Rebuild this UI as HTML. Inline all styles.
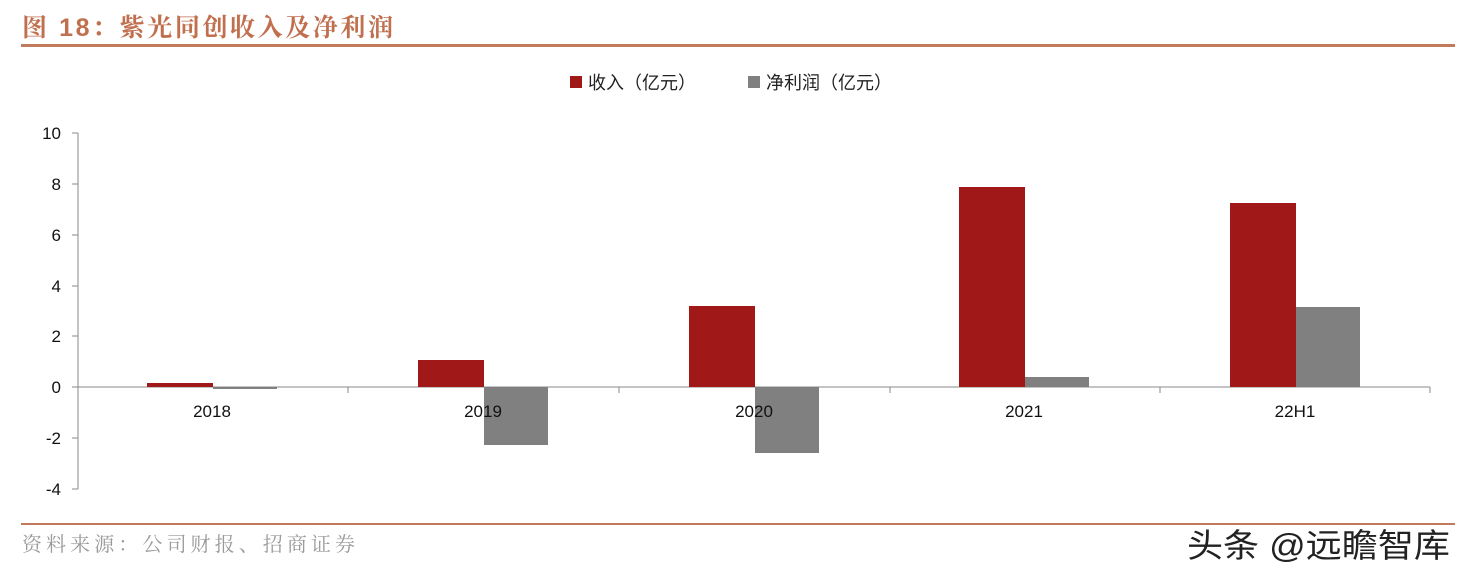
<!DOCTYPE html>
<html><head><meta charset="utf-8"><style>
body{margin:0;background:#fff;width:1476px;height:580px;overflow:hidden}
</style></head><body>
<svg width="1476" height="580" xmlns="http://www.w3.org/2000/svg" font-family="Liberation Sans, Noto Sans CJK SC, sans-serif">
<text x="22" y="36" font-size="25" font-weight="bold" fill="#c0704f" font-family="Liberation Sans, Noto Serif CJK SC, serif" textLength="371" lengthAdjust="spacing">图 18：紫光同创收入及净利润</text>
<rect x="21" y="44" width="1434" height="3" fill="#c27a5c"/>
<rect x="570" y="76" width="12" height="12" fill="#a01818"/>
<text x="588" y="89" font-size="18" fill="#222">收入（亿元）</text>
<rect x="748" y="76" width="12" height="12" fill="#808080"/>
<text x="766" y="89" font-size="18" fill="#222">净利润（亿元）</text>
<g stroke="#888" stroke-width="1">
<line x1="78" y1="133" x2="78" y2="489"/>
<line x1="78" y1="387" x2="1430" y2="387"/>
<line x1="72" y1="133" x2="78" y2="133"/><line x1="72" y1="184" x2="78" y2="184"/><line x1="72" y1="235" x2="78" y2="235"/><line x1="72" y1="286" x2="78" y2="286"/><line x1="72" y1="336" x2="78" y2="336"/><line x1="72" y1="387" x2="78" y2="387"/><line x1="72" y1="438" x2="78" y2="438"/><line x1="72" y1="489" x2="78" y2="489"/>
<line x1="348" y1="387" x2="348" y2="393"/><line x1="619" y1="387" x2="619" y2="393"/><line x1="890" y1="387" x2="890" y2="393"/><line x1="1160" y1="387" x2="1160" y2="393"/><line x1="1430" y1="387" x2="1430" y2="393"/>
</g>
<g font-size="17" fill="#111" text-anchor="end">
<text x="61" y="139">10</text><text x="61" y="190">8</text><text x="61" y="241">6</text><text x="61" y="292">4</text><text x="61" y="342">2</text><text x="61" y="393">0</text><text x="61" y="444">-2</text><text x="61" y="495">-4</text>
</g>
<g fill="#a01818">
<rect x="147" y="383" width="66" height="4"/>
<rect x="418" y="360" width="66" height="27"/>
<rect x="689" y="306" width="66" height="81"/>
<rect x="959" y="187" width="66" height="200"/>
<rect x="1230" y="203" width="66" height="184"/>
</g>
<g fill="#808080">
<rect x="213" y="387" width="64" height="2"/>
<rect x="484" y="387" width="64" height="58"/>
<rect x="755" y="387" width="64" height="66"/>
<rect x="1025" y="377" width="64" height="10"/>
<rect x="1296" y="307" width="64" height="80"/>
</g>
<g font-size="17" fill="#111" text-anchor="middle">
<text x="212" y="417">2018</text><text x="483" y="417">2019</text><text x="754" y="417">2020</text><text x="1024" y="417">2021</text><text x="1295" y="417">22H1</text>
</g>
<rect x="21" y="523" width="1434" height="2" fill="#c27a5c"/>
<text x="22" y="551" font-size="20" fill="#999" font-family="Liberation Serif, Noto Serif CJK SC, serif" textLength="333" lengthAdjust="spacing">资料来源：公司财报、招商证券</text>
<text x="1187" y="557" font-size="33" fill="#222" textLength="263" lengthAdjust="spacingAndGlyphs">头条 @远瞻智库</text>
</svg>
</body></html>
